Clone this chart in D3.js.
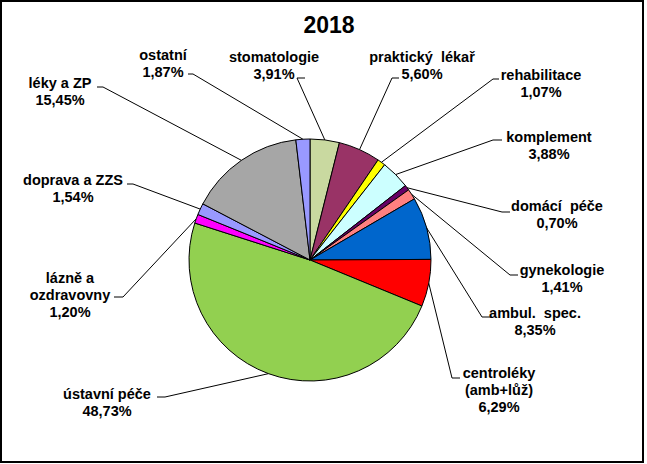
<!DOCTYPE html>
<html>
<head>
<meta charset="utf-8">
<script src="https://cdn.jsdelivr.net/npm/d3@7"></script>
<style>
  html, body { margin: 0; padding: 0; background: #fff; }
  svg text { font-family: Arial, "Liberation Sans", sans-serif; font-weight: bold; fill: #000; white-space: pre; }
</style>
</head>
<body>
<svg id="chart" width="647" height="464"></svg>
<script>
// ---- data ----
const title = "2018";
const categories = [
  "stomatologie", "praktický  lékař", "rehabilitace", "komplement", "domácí  péče",
  "gynekologie", "ambul.  spec.", "centroléky\n(amb+lůž)", "ústavní péče",
  "lázně a\nozdravovny", "doprava a ZZS", "léky a ZP", "ostatní"
];
const values = [3.91, 5.60, 1.07, 3.88, 0.70, 1.41, 8.35, 6.29, 48.73, 1.20, 1.54, 15.45, 1.87];
const valueLabels = ["3,91%", "5,60%", "1,07%", "3,88%", "0,70%", "1,41%", "8,35%", "6,29%", "48,73%", "1,20%", "1,54%", "15,45%", "1,87%"];
const colors = ["#C9D9A0", "#993366", "#FFFF00", "#CCFFFF", "#660066", "#FF8080", "#0066CC", "#FF0000", "#92D050", "#FF00FF", "#9999FF", "#A6A6A6", "#9999FF"];

// ---- layout (label placement, manual as in the original) ----
// [centre x, first line middle y, tick near-text x, tick far x, tick y]
const labelLayout = [
  [274, 57, 305, 297, 78],
  [422, 57, 399, 392, 78],
  [541, 75, 499, 493, 79],
  [549, 137, 502, 493, 140],
  [557, 206, 510, 502, 212],
  [562, 270, 518, 510, 275],
  [535, 313, 491, 482, 317],
  [499, 373, 460, 452, 378],
  [107, 394, 157, 165, 397],
  [70, 278, 114, 123, 297],
  [73, 180, 127, 133, 184],
  [60, 83, 97, 103, 87],
  [163, 55, 188, 193, 74]
];

const W = 647, H = 464;
const cx = 310, cy = 260, R = 121;
const fontSize = 14.5, lineH = 17;

const svg = d3.select("#chart");
svg.append("rect").attr("x", 0).attr("y", 0).attr("width", W).attr("height", H).attr("fill", "#fff");
svg.append("rect").attr("x", 1).attr("y", 1).attr("width", 642).attr("height", 461)
  .attr("fill", "none").attr("stroke", "#000").attr("stroke-width", 2);

svg.append("text").attr("x", 329).attr("y", 33).attr("text-anchor", "middle")
  .style("font-size", "23px").text(title);

const data = categories.map((c, i) => ({ name: c, value: values[i], label: valueLabels[i], color: colors[i], layout: labelLayout[i] }));

const pie = d3.pie().value(d => d.value).sort(null).startAngle(0).endAngle(2 * Math.PI);
const arcs = pie(data);
const arc = d3.arc().innerRadius(0).outerRadius(R);

const g = svg.append("g").attr("transform", `translate(${cx},${cy})`);
g.selectAll("path.slice").data(arcs).join("path")
  .attr("class", "slice")
  .attr("d", arc)
  .attr("fill", d => d.data.color)
  .attr("stroke", "#000").attr("stroke-width", 1).attr("stroke-linejoin", "round");

// leader lines
const line = d3.line();
arcs.forEach(a => {
  const mid = (a.startAngle + a.endAngle) / 2;
  const px = cx + R * Math.sin(mid), py = cy - R * Math.cos(mid);
  const L = a.data.layout;
  svg.append("path")
    .attr("d", line([[px, py], [L[3], L[4]], [L[2], L[4]]]))
    .attr("fill", "none").attr("stroke", "#000").attr("stroke-width", 1);
});

// labels
arcs.forEach(a => {
  const L = a.data.layout;
  const lines = a.data.name.split("\n").concat([a.data.label]);
  const t = svg.append("text").attr("text-anchor", "middle").style("font-size", fontSize + "px");
  lines.forEach((s, k) => {
    t.append("tspan").attr("x", L[0]).attr("y", L[1] + 5 + k * lineH).text(s);
  });
});
</script>
</body>
</html>
